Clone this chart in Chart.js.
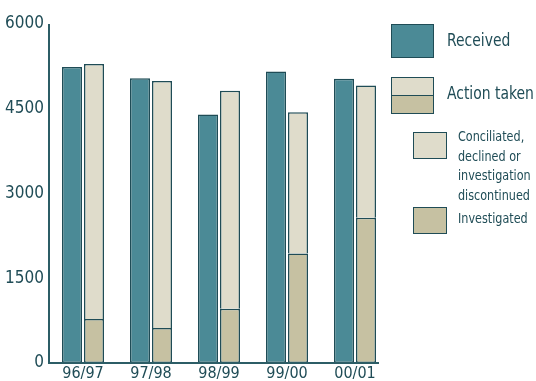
<!DOCTYPE html>
<html>
<head>
<meta charset="utf-8">
<script src="https://cdn.jsdelivr.net/npm/chart.js@4/dist/chart.umd.min.js"></script>
<style>
    body { margin: 0; background: #fff; }
    #wrap { position: relative; width: 536px; height: 381px; overflow: hidden; }
    #chart { position: absolute; left: 0; top: 0; }
    .lg { position: absolute; font-family: 'DejaVu Sans Condensed', 'Liberation Sans', sans-serif; color: #1f4c56;
          white-space: nowrap; transform: scaleX(0.86); transform-origin: left top; }
    .box { position: absolute; box-sizing: border-box; border: 1.5px solid #1f4c56; }
</style>
</head>
<body>
<div id="wrap">
    <canvas id="chart" width="536" height="381"></canvas>

    <!-- legend -->
    <div class="box" style="left:391px; top:24px; width:43px; height:34px; background:#4b8a96;"></div>
    <div class="lg" style="left:447px; top:29px; font-size:18px;">Received</div>

    <div class="box" style="left:391px; top:77px; width:43px; height:37px; background:#dfdccb;"></div>
    <div class="box" style="left:391px; top:95px; width:43px; height:19px; background:#c6c1a2;"></div>
    <div class="lg" style="left:447px; top:82px; font-size:18px;">Action taken</div>

    <div class="box" style="left:413px; top:132px; width:34px; height:27px; background:#dfdccb;"></div>
    <div class="lg" style="left:458px; top:127px; font-size:14.5px; line-height:19.7px;">Conciliated,<br>declined or<br>investigation<br>discontinued</div>

    <div class="box" style="left:413px; top:207px; width:34px; height:27px; background:#c6c1a2;"></div>
    <div class="lg" style="left:458px; top:210px; font-size:14.5px;">Investigated</div>
</div>

<script>
// complaints per financial year
const years = ['96/97', '97/98', '98/99', '99/00', '00/01'];
const received = [5240, 5040, 4400, 5160, 5030];
const investigated = [780, 620, 960, 1940, 2570];
const conciliated = [4510, 4370, 3860, 2500, 2340];
const yTicks = [0, 1500, 3000, 4500, 6000];

const ink = '#1f4c56';
const fontFamily = "'DejaVu Sans Condensed', 'Liberation Sans', sans-serif";

// axes drawn by hand so the baseline stops at the last bar
const axisLines = {
    id: 'axisLines',
    afterDatasetsDraw(chart) {
        const { ctx, chartArea, scales } = chart;
        const endX = scales.x.getPixelForValue(years.length - 1) + 24;
        ctx.save();
        ctx.strokeStyle = '#2c5d66';
        ctx.lineWidth = 2;
        ctx.beginPath();
        ctx.moveTo(chartArea.left, chartArea.top);
        ctx.lineTo(chartArea.left, chartArea.bottom);
        ctx.lineTo(endX, chartArea.bottom);
        ctx.stroke();
        ctx.restore();
    }
};

const barStyle = {
    borderColor: ink,
    borderWidth: 1.5,
    borderSkipped: false,
    categoryPercentage: 0.647,
    barPercentage: 0.909
};

new Chart(document.getElementById('chart'), {
    type: 'bar',
    data: {
        labels: years,
        datasets: [
            { label: 'Received', data: received, backgroundColor: '#4b8a96', stack: 'received', ...barStyle },
            { label: 'Investigated', data: investigated, backgroundColor: '#c6c1a2', stack: 'action', ...barStyle },
            { label: 'Conciliated, declined or investigation discontinued', data: conciliated, backgroundColor: '#dfdccb', stack: 'action', ...barStyle, borderSkipped: 'bottom' }
        ]
    },
    options: {
        responsive: false,
        animation: false,
        layout: { padding: { top: 24, right: 147, left: 0, bottom: 0 } },
        plugins: {
            legend: { display: false },
            tooltip: { enabled: false }
        },
        scales: {
            x: {
                stacked: true,
                grid: { display: false, drawTicks: false },
                border: { display: false },
                ticks: { color: ink, font: { family: fontFamily, size: 16 }, padding: 1 },
                afterFit(scale) { scale.height = 18; }
            },
            y: {
                stacked: true,
                min: 0,
                max: 6000,
                afterBuildTicks(scale) { scale.ticks = yTicks.map(v => ({ value: v })); },
                grid: { display: false, drawTicks: false },
                border: { display: false },
                ticks: {
                    color: ink,
                    font: { family: fontFamily, size: 17 },
                    padding: 5,
                    callback: v => String(v)
                },
                afterFit(scale) { scale.width = 49; }
            }
        }
    },
    plugins: [axisLines]
});
</script>
</body>
</html>
